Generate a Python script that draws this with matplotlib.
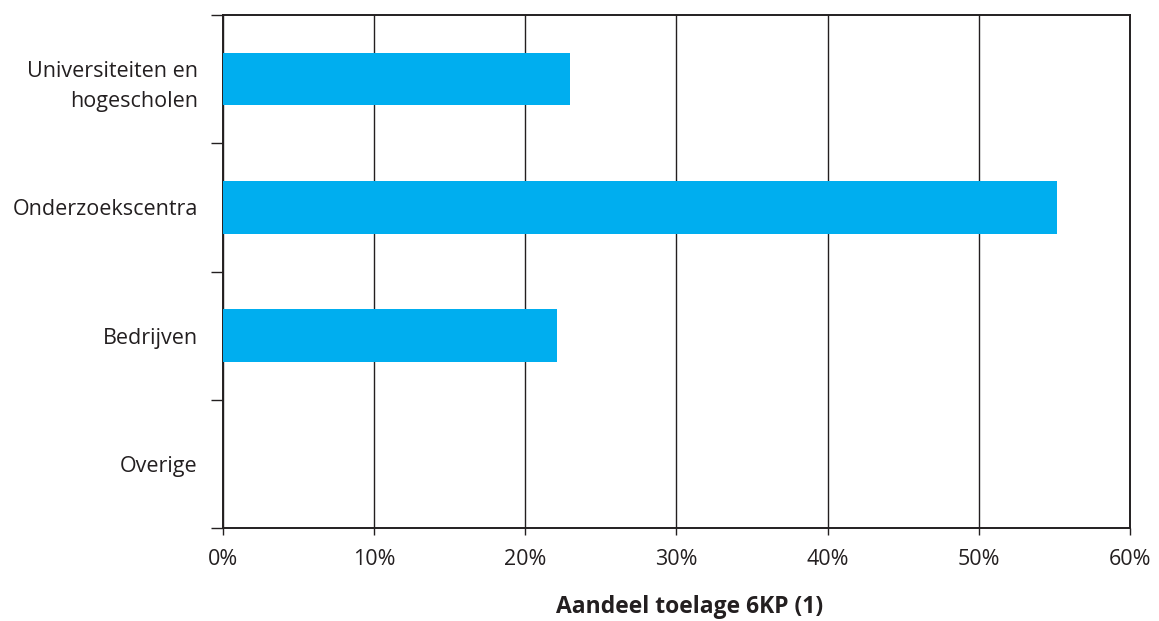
import matplotlib.pyplot as plt
from matplotlib.ticker import FixedLocator, FuncFormatter

plt.rcParams['font.family'] = ['Open Sans', 'DejaVu Sans']

categories = ['Universiteiten en\nhogescholen', 'Onderzoekscentra', 'Bedrijven', 'Overige']
shares = [23.0, 55.2, 22.1, 0.0]
x_ticks = [0, 10, 20, 30, 40, 50, 60]

BAR_COLOR = '#00AEEF'
LINE_COLOR = '#231F20'
TEXT_COLOR = '#231F20'

fig = plt.figure(figsize=(11.59, 6.21), dpi=100)
ax = fig.add_axes([0.1921, 0.1498, 0.7829, 0.826])

n = len(categories)
centers = [n - i - 0.5 for i in range(n)]
ax.barh(centers, shares, height=0.41, color=BAR_COLOR, zorder=3)

ax.set_xlim(0, 60)
ax.set_ylim(0, n)

ax.xaxis.set_major_locator(FixedLocator(x_ticks))
ax.xaxis.set_major_formatter(FuncFormatter(lambda v, p: f'{v:.0f}%'))
ax.grid(axis='x', color=LINE_COLOR, linewidth=1.0, zorder=1)

# category boundaries get the tick marks, centres get the labels
ax.set_yticks(range(n + 1))
ax.set_yticklabels([])
ax.set_yticks(centers, minor=True)
ax.set_yticklabels(categories, minor=True, ha='right', multialignment='right',
                   linespacing=1.6)
ax.tick_params(axis='y', which='major', length=9, width=1.0, color=LINE_COLOR)
ax.tick_params(axis='y', which='minor', length=0, pad=18, labelsize=15.5,
               labelcolor=TEXT_COLOR)
ax.tick_params(axis='x', length=5, width=1.0, color=LINE_COLOR, labelsize=15.5,
               labelcolor=TEXT_COLOR, pad=10)

for s in ax.spines.values():
    s.set_color(LINE_COLOR)
    s.set_linewidth(1.4)

ax.set_xlabel('Aandeel toelage 6KP (1)', fontsize=16.5, fontweight='bold',
              color=TEXT_COLOR, labelpad=18)
ax.xaxis.label.set_x(0.515)

fig.savefig('out.png', dpi=100)
